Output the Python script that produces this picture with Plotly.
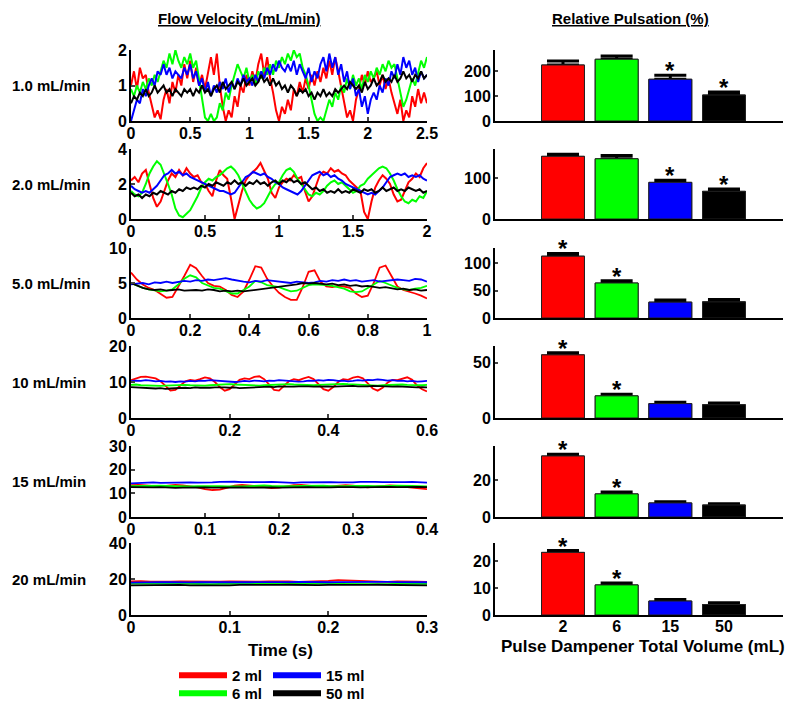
import numpy as np
import plotly.graph_objects as go

# ---------------- data ----------------
volumes = ["2 ml", "6 ml", "15 ml", "50 ml"]
volume_ticks = ["2", "6", "15", "50"]
colors = ["#ff0000", "#00ff00", "#0000ff", "#000000"]
row_labels = ["1.0 mL/min", "2.0 mL/min", "5.0 mL/min", "10 mL/min", "15 mL/min", "20 mL/min"]
durations = [2.5, 2.0, 1.0, 0.6, 0.4, 0.3]
flow_ymax = [2, 4, 10, 20, 30, 40]
time_ticks = [[0, 0.5, 1, 1.5, 2, 2.5], [0, 0.5, 1, 1.5, 2], [0, 0.2, 0.4, 0.6, 0.8, 1],
              [0, 0.2, 0.4, 0.6], [0, 0.1, 0.2, 0.3, 0.4], [0, 0.1, 0.2, 0.3]]
flow_ticks = [[0, 1, 2], [0, 2, 4], [0, 5, 10], [0, 10, 20], [0, 10, 20, 30], [0, 20, 40]]

# 1.0 mL/min
f1_2ml = [1.0, 1.4, 0.9, 1.5, 1.2, 1.3, 0.8, 0.4, 0.1, 0.3, 0.05, 0.6, 0.9, 0.5, 1.1, 0.8, 1.3,
          1.0, 1.6, 1.2, 1.7, 1.1, 1.5, 1.0, 1.3, 0.9, 1.4, 1.8, 1.3, 1.9, 1.0, 0.4, 0.0, 0.3, 0.1,
          0.7, 0.4, 1.0, 0.8, 1.3, 1.0, 1.4, 1.1, 1.6, 1.9, 1.3, 1.8, 1.2, 0.8, 0.3, 0.0, 0.4, 0.2,
          0.6, 0.3, 0.9, 0.7, 1.1, 0.8, 1.2, 0.9, 1.3, 1.0, 1.4, 1.1, 1.5, 1.2, 1.7, 1.3, 1.8, 1.4,
          1.0, 0.5, 0.1, 0.3, 0.0, 0.6, 0.9, 1.3, 1.0, 1.4, 1.1, 1.2, 1.4, 1.0, 1.3, 0.9, 1.2, 0.8,
          0.5, 0.2, 0.6, 0.0, 0.3, 0.1, 0.7, 0.4, 0.9, 0.5, 0.8, 0.5]
f1_6ml = [0.9, 0.7, 1.0, 0.8, 1.1, 0.9, 1.2, 1.0, 1.3, 1.1, 1.4, 1.7, 1.5, 1.9, 1.6, 2.0, 1.7,
          1.5, 1.8, 1.6, 1.9, 1.5, 1.7, 1.2, 0.6, 0.1, 0.0, 0.2, 0.0, 0.1, 0.5, 0.3, 0.8, 0.6, 1.0,
          1.3, 1.6, 1.4, 1.2, 1.5, 1.1, 1.3, 1.0, 1.4, 1.2, 1.5, 1.3, 1.6, 1.3, 1.7, 1.5, 1.8, 1.6,
          1.9, 1.7, 2.0, 1.8, 1.9, 1.5, 1.3, 1.0, 0.6, 0.2, 0.0, 0.1, 0.0, 0.3, 0.6, 0.4, 0.8, 0.6,
          1.0, 0.8, 1.2, 0.9, 1.3, 1.0, 1.2, 0.9, 1.3, 1.1, 1.4, 1.2, 1.5, 1.3, 1.6, 1.4, 1.7, 1.5,
          1.6, 1.2, 0.8, 0.4, 0.6, 0.9, 1.2, 1.0, 1.4, 1.7, 1.5, 1.8]
f1_15ml = [0.0, 0.3, 0.6, 0.5, 0.9, 0.7, 1.0, 1.2, 1.0, 1.4, 1.3, 1.6, 1.3, 1.5, 1.2, 1.4, 1.3,
           1.2, 1.5, 1.3, 1.6, 1.2, 1.4, 1.0, 1.2, 0.8, 1.1, 0.7, 1.0, 0.8, 1.1, 0.9, 1.2, 0.8, 1.1,
           0.9, 1.2, 1.0, 1.3, 1.1, 1.2, 1.0, 1.3, 1.1, 1.4, 1.2, 1.5, 1.3, 1.6, 1.4, 1.7, 1.5, 1.4,
           1.6, 1.4, 1.7, 1.3, 1.6, 1.4, 1.2, 1.5, 1.1, 1.4, 1.2, 1.6, 1.8, 1.4, 1.9, 1.5, 1.8, 1.3,
           1.6, 1.1, 1.4, 0.9, 1.2, 0.7, 0.9, 0.4, 0.7, 0.2, 0.6, 0.8, 0.6, 1.0, 0.8, 1.2, 1.0, 1.4,
           1.2, 1.6, 1.3, 1.8, 1.5, 1.7, 1.3, 1.5, 1.1, 1.4, 1.2, 1.3]
f1_50ml = [0.5, 0.7, 0.6, 0.8, 0.7, 0.9, 0.7, 0.8, 1.0, 0.8, 0.9, 1.0, 0.8, 0.9, 0.7, 0.9, 0.8,
           0.7, 0.9, 0.8, 0.9, 0.7, 0.9, 0.8, 1.0, 0.8, 0.9, 0.7, 0.9, 1.0, 0.8, 1.1, 0.9, 1.0, 1.1,
           0.9, 1.1, 1.0, 1.2, 1.0, 1.1, 1.2, 1.0, 1.1, 1.3, 1.1, 1.2, 1.0, 1.2, 1.0, 1.1, 0.9, 1.0,
           0.8, 1.0, 0.9, 0.7, 0.9, 0.8, 0.9, 0.7, 0.8, 0.6, 0.8, 0.7, 0.9, 0.7, 0.8, 0.7, 0.9, 0.8,
           0.9, 1.0, 0.9, 1.1, 1.0, 0.9, 1.0, 0.8, 1.1, 0.9, 1.0, 1.2, 1.0, 1.1, 1.3, 1.1, 1.2, 1.1,
           1.3, 1.1, 1.2, 1.4, 1.2, 1.3, 1.1, 1.3, 1.2, 1.4, 1.2, 1.3]

# 2.0 mL/min
f2_2ml = [2.2, 2.4, 2.1, 2.6, 2.8, 2.0, 1.2, 0.7, 1.0, 1.6, 2.2, 2.6, 2.4, 2.8, 2.5, 2.9, 2.6,
          2.4, 2.5, 2.1, 2.0, 1.6, 1.3, 2.2, 2.8, 2.5, 2.3, 1.2, 0.0, 0.8, 1.6, 2.2, 2.5, 2.7, 2.9,
          3.2, 2.7, 2.3, 1.5, 1.2, 1.8, 2.1, 2.3, 2.2, 2.5, 2.3, 2.4, 1.6, 1.0, 1.3, 1.9, 2.5, 2.7,
          2.6, 2.9, 2.7, 2.8, 2.6, 2.5, 2.2, 2.0, 1.8, 1.6, 0.4, 0.0, 1.0, 1.8, 2.2, 2.5, 2.3, 2.0,
          1.4, 1.0, 1.1, 1.6, 2.1, 2.3, 2.6, 2.4, 2.9, 3.2]
f2_6ml = [1.6, 1.4, 1.3, 1.5, 2.0, 2.6, 3.0, 3.3, 3.1, 2.6, 2.0, 1.4, 0.6, 0.2, 0.1, 0.3, 0.5,
          0.9, 1.3, 1.8, 2.1, 2.3, 2.2, 2.4, 2.5, 2.7, 2.9, 3.0, 2.8, 2.5, 2.0, 1.5, 1.1, 0.8, 0.6,
          0.7, 0.9, 1.3, 1.7, 2.0, 2.1, 2.5, 2.8, 2.9, 2.7, 2.3, 2.0, 1.7, 1.4, 1.3, 1.5, 1.4, 1.6,
          1.9, 2.1, 2.2, 2.0, 2.1, 1.9, 1.7, 1.5, 1.6, 1.9, 2.0, 2.3, 2.5, 2.7, 2.9, 3.0, 2.9, 2.6,
          2.2, 1.7, 1.3, 1.0, 0.9, 1.1, 1.0, 1.3, 1.2, 1.6]
f2_15ml = [1.9, 1.7, 1.6, 1.5, 1.6, 1.5, 1.7, 1.9, 2.2, 2.5, 2.6, 2.8, 2.6, 2.7, 2.5, 2.6, 2.4,
           2.3, 2.2, 2.1, 2.0, 1.9, 1.8, 1.7, 1.6, 1.6, 1.5, 1.4, 1.5, 1.8, 2.1, 2.4, 2.5, 2.7, 2.6,
           2.5, 2.6, 2.4, 2.3, 2.1, 2.0, 1.8, 1.7, 1.6, 1.5, 1.4, 1.6, 1.9, 2.2, 2.5, 2.6, 2.7, 2.5,
           2.6, 2.4, 2.5, 2.3, 2.2, 2.0, 1.9, 1.8, 1.7, 1.6, 1.5, 1.4, 1.5, 1.4, 1.6, 1.8, 2.1, 2.4,
           2.5, 2.6, 2.5, 2.6, 2.4, 2.5, 2.4, 2.5, 2.3, 2.2]
f2_50ml = [1.5, 1.3, 1.4, 1.2, 1.4, 1.3, 1.5, 1.4, 1.6, 1.5, 1.4, 1.6, 1.5, 1.7, 1.6, 1.8, 1.7,
           1.8, 1.7, 1.9, 1.8, 2.0, 1.9, 2.1, 2.0, 1.9, 2.1, 2.0, 2.2, 2.0, 2.1, 1.9, 2.1, 2.0, 2.2,
           2.0, 2.1, 1.9, 2.1, 2.2, 2.0, 2.2, 2.1, 2.3, 2.1, 2.2, 2.0, 2.1, 1.9, 1.7, 1.8, 1.6, 1.7,
           1.5, 1.6, 1.5, 1.7, 1.5, 1.6, 1.5, 1.7, 1.6, 1.5, 1.7, 1.6, 1.7, 1.5, 1.6, 1.8, 1.6, 1.7,
           1.8, 1.6, 1.7, 1.6, 1.8, 1.7, 1.6, 1.7, 1.5, 1.6]

# 5.0 mL/min
f5_2ml = [6.5, 5.5, 4.8, 4.3, 4.0, 3.4, 2.9, 3.0, 4.4, 6.0, 7.6, 7.1, 6.0, 5.0, 4.6, 4.5, 4.0,
          3.3, 3.0, 3.8, 5.5, 7.4, 7.2, 5.6, 4.5, 3.6, 3.0, 2.6, 2.6, 4.4, 6.6, 6.8, 5.2, 4.5, 4.4,
          4.6, 4.5, 4.3, 3.5, 3.0, 3.2, 5.0, 7.2, 7.5, 6.0, 4.5, 4.0, 3.8, 3.5, 3.2, 2.8]
f5_6ml = [5.0, 4.6, 4.3, 4.1, 3.9, 3.8, 3.9, 4.1, 4.8, 5.6, 6.1, 5.8, 5.0, 4.6, 4.3, 4.2, 3.8,
          3.5, 3.5, 4.0, 4.5, 5.3, 5.1, 4.7, 4.6, 4.4, 4.1, 3.8, 3.9, 4.3, 4.7, 4.8, 4.8, 4.7, 4.6,
          4.4, 4.2, 3.8, 3.7, 3.8, 4.3, 4.9, 5.3, 5.0, 4.6, 4.3, 4.1, 4.0, 4.2, 4.3, 4.6]
f5_15ml = [4.8, 4.9, 5.0, 4.8, 5.1, 5.0, 5.2, 5.0, 5.1, 5.3, 5.2, 5.4, 5.3, 5.5, 5.4, 5.6, 5.7,
           5.5, 5.3, 5.2, 5.1, 5.3, 5.2, 5.4, 5.3, 5.2, 5.1, 5.0, 5.2, 5.1, 5.0, 5.1, 5.3, 5.2, 5.4,
           5.3, 5.5, 5.3, 5.4, 5.2, 5.3, 5.4, 5.2, 5.3, 5.4, 5.5, 5.4, 5.3, 5.6, 5.5, 5.2]
f5_50ml = [5.0, 4.6, 4.3, 4.1, 4.0, 4.1, 3.9, 4.0, 4.1, 3.9, 4.0, 4.0, 3.9, 4.1, 4.0, 3.8, 3.9,
           3.8, 3.9, 3.8, 3.9, 4.0, 4.1, 4.2, 4.3, 4.4, 4.5, 4.7, 4.8, 5.0, 4.9, 5.0, 4.9, 4.8, 4.9,
           4.7, 4.8, 4.6, 4.7, 4.5, 4.6, 4.4, 4.3, 4.4, 4.2, 4.1, 4.2, 4.0, 4.1, 3.9, 4.0]

# 10 mL/min
f10_2ml = [10.5, 11.0, 11.4, 11.5, 11.2, 11.0, 10.2, 8.8, 7.6, 7.8, 9.0, 10.2, 10.6, 10.4, 10.8,
           11.3, 11.0, 10.0, 8.6, 7.6, 8.0, 9.4, 10.6, 11.0, 10.8, 11.4, 11.6, 10.8, 9.2, 7.8, 7.6,
           8.8, 10.2, 10.8, 10.5, 11.0, 11.4, 10.8, 9.4, 8.0, 7.6, 8.6, 10.0, 10.8, 10.6, 11.2, 11.5,
           11.0, 9.6, 8.2, 7.6, 8.4, 9.8, 10.6, 10.5, 11.0, 11.3, 10.6, 9.0, 8.0, 7.4]
f10_6ml = [9.2, 9.3, 9.1, 9.0, 8.9, 8.8, 8.9, 9.0, 9.1, 9.2, 9.3, 9.2, 9.1, 9.0, 8.9, 9.0, 9.1,
           9.2, 9.4, 9.5, 9.4, 9.3, 9.2, 9.1, 9.0, 8.9, 9.0, 9.1, 9.2, 9.3, 9.4, 9.5, 9.4, 9.3, 9.2,
           9.1, 9.0, 9.1, 9.2, 9.3, 9.4, 9.5, 9.6, 9.5, 9.4, 9.3, 9.2, 9.1, 9.0, 8.9, 9.0, 9.1, 9.2,
           9.3, 9.4, 9.3, 9.2, 9.1, 9.0, 9.1, 9.2]
f10_15ml = [10.2, 10.4, 10.3, 10.5, 10.4, 10.2, 10.3, 10.1, 10.2, 10.0, 10.2, 10.1, 10.3, 10.2,
            10.4, 10.3, 10.5, 10.4, 10.3, 10.1, 10.2, 10.0, 10.1, 10.3, 10.2, 10.4, 10.3, 10.2,
            10.4, 10.3, 10.5, 10.4, 10.2, 10.3, 10.1, 10.2, 10.4, 10.3, 10.5, 10.4, 10.6, 10.5,
            10.3, 10.4, 10.2, 10.3, 10.5, 10.4, 10.6, 10.5, 10.7, 10.6, 10.4, 10.5, 10.3, 10.4,
            10.2, 10.3, 10.1, 10.2, 10.3]
f10_50ml = [8.6, 8.5, 8.4, 8.3, 8.4, 8.2, 8.3, 8.1, 8.2, 8.3, 8.2, 8.4, 8.3, 8.5, 8.4, 8.3, 8.4,
            8.5, 8.6, 8.5, 8.4, 8.5, 8.3, 8.4, 8.5, 8.6, 8.5, 8.6, 8.7, 8.6, 8.8, 8.7, 8.6, 8.7, 8.8,
            8.9, 8.8, 8.7, 8.8, 8.9, 8.8, 8.7, 8.8, 8.9, 9.0, 8.9, 8.8, 8.7, 8.8, 8.9, 8.8, 8.7, 8.6,
            8.7, 8.8, 8.7, 8.6, 8.7, 8.5, 8.6, 8.5]

# 15 mL/min
f15_2ml = [13.5, 13.6, 13.3, 13.0, 12.8, 13.2, 13.6, 13.4, 13.0, 12.5, 11.8, 11.4, 11.6, 12.4,
           13.2, 13.6, 13.4, 13.0, 12.6, 12.2, 12.4, 13.0, 13.5, 13.6, 13.2, 12.8, 12.6, 12.9, 13.3,
           13.5, 13.2, 12.8, 12.5, 12.8, 13.2, 13.4, 13.1, 12.7, 12.4, 12.0, 11.8]
f15_6ml = [13.0, 13.1, 12.9, 13.0, 13.2, 13.1, 13.0, 12.8, 12.9, 13.0, 13.1, 13.2, 13.0, 12.9,
           12.8, 12.9, 13.0, 13.2, 13.3, 13.1, 13.0, 12.9, 13.0, 13.1, 13.2, 13.3, 13.2, 13.0, 12.9,
           13.0, 13.1, 13.2, 13.1, 13.0, 12.9, 13.1, 13.2, 13.3, 13.1, 13.0, 12.9]
f15_15ml = [14.2, 14.4, 14.5, 14.6, 14.4, 14.5, 14.7, 14.8, 14.6, 14.5, 14.4, 14.6, 14.8, 15.0,
            14.9, 14.7, 14.6, 14.5, 14.7, 14.8, 14.6, 14.5, 14.4, 14.6, 14.7, 14.8, 14.9, 14.7,
            14.6, 14.5, 14.6, 14.8, 14.9, 14.8, 14.7, 14.6, 14.5, 14.7, 14.8, 14.6, 14.5]
f15_50ml = [12.6, 12.5, 12.4, 12.5, 12.6, 12.4, 12.3, 12.4, 12.5, 12.6, 12.5, 12.4, 12.5, 12.6,
            12.7, 12.5, 12.4, 12.5, 12.6, 12.5, 12.4, 12.5, 12.6, 12.7, 12.6, 12.5, 12.4, 12.5,
            12.6, 12.7, 12.6, 12.5, 12.6, 12.7, 12.8, 12.7, 12.6, 12.7, 12.8, 12.7, 12.6]

# 20 mL/min
f20_2ml = [18.6, 18.8, 18.5, 18.3, 18.5, 18.7, 18.6, 18.4, 18.3, 18.5, 18.7, 18.6, 18.4, 18.5,
           18.7, 18.8, 18.6, 18.4, 18.5, 18.7, 19.0, 19.4, 19.2, 18.8, 18.6, 18.5, 18.4, 18.6,
           18.7, 18.5, 18.4]
f20_6ml = [17.5, 17.4, 17.2, 17.3, 17.4, 17.5, 17.3, 17.2, 17.1, 17.3, 17.4, 17.3, 17.2, 17.4,
           17.5, 17.3, 17.2, 17.3, 17.5, 17.6, 17.4, 17.3, 17.2, 17.3, 17.4, 17.3, 17.2, 17.4,
           17.5, 17.4, 17.3]
f20_15ml = [18.0, 18.2, 18.1, 18.3, 18.2, 18.0, 18.1, 18.3, 18.2, 18.4, 18.3, 18.1, 18.2, 18.3,
            18.2, 18.1, 18.3, 18.4, 18.2, 18.1, 18.2, 18.3, 18.4, 18.3, 18.2, 18.3, 18.4, 18.3,
            18.2, 18.3, 18.2]
f20_50ml = [16.5, 16.6, 16.4, 16.5, 16.6, 16.7, 16.5, 16.4, 16.5, 16.6, 16.5, 16.7, 16.6, 16.5,
            16.6, 16.7, 16.8, 16.6, 16.5, 16.6, 16.7, 16.6, 16.5, 16.6, 16.7, 16.8, 16.7, 16.6,
            16.7, 16.6, 16.5]

# relative pulsation (%) mean and error, per flow rate, per dampener volume
puls_1_0 = [224, 247, 167, 104]
err_1_0 = [16, 13, 16, 12]
puls_2_0 = [154, 148, 90, 68]
err_2_0 = [5, 8, 5, 6]
puls_5_0 = [113, 64, 29, 29.5]
err_5_0 = [5, 4, 4, 4.5]
puls_10 = [57, 20, 13, 12]
err_10 = [2, 1.5, 1.2, 1.5]
puls_15 = [33, 12.5, 7.6, 6.5]
err_15 = [1, 1, 0.7, 0.6]
puls_20 = [23.3, 11.2, 5.2, 3.9]
err_20 = [0.7, 0.7, 0.6, 0.7]
signif_1_0 = [False, False, True, True]
signif_2_0 = [False, False, True, True]
signif_5_0 = [True, True, False, False]
signif_10 = [True, True, False, False]
signif_15 = [True, True, False, False]
signif_20 = [True, True, False, False]
puls_ymax = [284, 172, 128, 65, 38.4, 26.8]
puls_ticks = [[0, 100, 200], [0, 100], [0, 50, 100], [0, 50], [0, 20], [0, 10, 20]]

flows = [[f1_2ml, f1_6ml, f1_15ml, f1_50ml], [f2_2ml, f2_6ml, f2_15ml, f2_50ml],
         [f5_2ml, f5_6ml, f5_15ml, f5_50ml], [f10_2ml, f10_6ml, f10_15ml, f10_50ml],
         [f15_2ml, f15_6ml, f15_15ml, f15_50ml], [f20_2ml, f20_6ml, f20_15ml, f20_50ml]]
puls = [puls_1_0, puls_2_0, puls_5_0, puls_10, puls_15, puls_20]
errs = [err_1_0, err_2_0, err_5_0, err_10, err_15, err_20]
signifs = [signif_1_0, signif_2_0, signif_5_0, signif_10, signif_15, signif_20]

# ---------------- layout ----------------
W, H = 800, 705
OFF = 8  # page body offset of the plot div


def PX(px):
    return (px - OFF) / W


def PY(py):
    return 1 - (py - OFF) / H


FONT = "Liberation Sans, Arial, sans-serif"
tops = [50, 149, 248, 346, 446, 543]
bottoms = [121, 219, 318, 418, 517, 615]
left_dom = [PX(131), PX(427)]
right_dom = [PX(495), PX(783)]
bar_pos = [1, 2, 3, 4]
line_w = [2.0, 2.0, 1.8, 1.8, 1.8, 1.8]

fig = go.Figure()
layout = dict(
    width=W, height=H, margin=dict(l=0, r=0, t=0, b=0, pad=0, autoexpand=False),
    paper_bgcolor="white", plot_bgcolor="white", showlegend=True,
    font=dict(family=FONT, size=16, color="black", weight="bold"),
    barmode="overlay",
)
annotations = []
tickfont = dict(family=FONT, size=16, color="black", weight="bold")

for r in range(6):
    ydom = [PY(bottoms[r]), PY(tops[r])]
    lx, ly = f"x{2*r+1}", f"y{2*r+1}"
    rx, ry = f"x{2*r+2}", f"y{2*r+2}"
    T = durations[r]
    for k in range(4):
        yv = flows[r][k]
        t = np.linspace(0, T, len(yv))
        fig.add_trace(go.Scatter(x=t, y=yv, mode="lines", line=dict(color=colors[k], width=line_w[r]),
                                 xaxis=lx, yaxis=ly, showlegend=False, hoverinfo="skip"))
    layout[f"xaxis{2*r+1}"] = dict(
        domain=left_dom, anchor=ly, range=[0, T], tickvals=time_ticks[r],
        ticktext=[f"{v:g}" for v in time_ticks[r]], ticks="inside", ticklen=4, tickwidth=1.5,
        showline=True, linewidth=2, linecolor="black", showgrid=False, zeroline=False,
        tickfont=tickfont, automargin=False, ticklabelstandoff=-3)
    layout[f"yaxis{2*r+1}"] = dict(
        domain=ydom, anchor=lx, range=[0, flow_ymax[r]], tickvals=flow_ticks[r],
        ticks="inside", ticklen=4, tickwidth=1.5, showline=True, linewidth=2, linecolor="black",
        showgrid=False, zeroline=False, tickfont=tickfont, automargin=False, ticklabelstandoff=-1)

    # bars
    fig.add_trace(go.Bar(x=bar_pos, y=puls[r], width=0.8, marker=dict(color=colors,
                         line=dict(color="#222222", width=1)),
                         error_y=dict(type="data", array=errs[r], arrayminus=[0] * 4,
                                      symmetric=False, color="black", thickness=3, width=16),
                         xaxis=rx, yaxis=ry, showlegend=False, hoverinfo="skip"))
    fig.add_trace(go.Bar(x=bar_pos, y=puls[r], width=0.8, marker=dict(color=colors,
                         line=dict(color="#222222", width=1)),
                         xaxis=rx, yaxis=ry, showlegend=False, hoverinfo="skip"))
    layout[f"xaxis{2*r+2}"] = dict(
        domain=right_dom, anchor=ry, range=[-0.267, 5.1], tickvals=bar_pos,
        ticktext=volume_ticks, showticklabels=(r == 5), ticks="",
        showline=True, linewidth=2, linecolor="black", showgrid=False, zeroline=False,
        tickfont=tickfont, automargin=False, ticklabelstandoff=-4)
    layout[f"yaxis{2*r+2}"] = dict(
        domain=ydom, anchor=rx, range=[0, puls_ymax[r]], tickvals=puls_ticks[r],
        ticks="inside", ticklen=3, tickwidth=1.5, showline=True, linewidth=2, linecolor="black",
        showgrid=False, zeroline=False, tickfont=tickfont, automargin=False, ticklabelstandoff=-1)
    for k in range(4):
        if signifs[r][k]:
            annotations.append(dict(x=bar_pos[k], y=puls[r][k] + errs[r][k], xref=rx, yref=ry,
                                    text="*", showarrow=False, xanchor="center", yanchor="bottom",
                                    yshift=-11,
                                    font=dict(family=FONT, size=24, color="black", weight="bold")))
    annotations.append(dict(x=PX(10), y=PY((tops[r] + bottoms[r]) / 2), xref="paper",
                            yref="paper", text=row_labels[r], showarrow=False, xanchor="left",
                            yanchor="middle",
                            font=dict(family=FONT, size=15, color="black", weight="bold")))

annotations += [
    dict(x=PX(240), y=PY(18), xref="paper", yref="paper", text="<u>Flow Velocity (mL/min)</u>",
         showarrow=False, xanchor="center", yanchor="middle",
         font=dict(family=FONT, size=15, color="black", weight="bold")),
    dict(x=PX(630), y=PY(18), xref="paper", yref="paper", text="<u>Relative Pulsation (%)</u>",
         showarrow=False, xanchor="center", yanchor="middle",
         font=dict(family=FONT, size=15, color="black", weight="bold")),
    dict(x=PX(280), y=PY(650), xref="paper", yref="paper", text="Time (s)",
         showarrow=False, xanchor="center", yanchor="middle",
         font=dict(family=FONT, size=17, color="black", weight="bold")),
    dict(x=PX(643), y=PY(646), xref="paper", yref="paper",
         text="Pulse Dampener Total Volume (mL)", showarrow=False, xanchor="center",
         yanchor="middle", font=dict(family=FONT, size=17, color="black", weight="bold")),
]
layout["annotations"] = annotations

# legend entries: 2 columns x 2 rows, one legend box per entry
legend_ids = ["legend", "legend2", "legend3", "legend4"]
legend_xy = [(174, 659), (174, 677), (268, 659), (268, 677)]
legend_common = dict(orientation="v", xanchor="left", yanchor="top", itemwidth=48,
                     bgcolor="rgba(0,0,0,0)", borderwidth=0, tracegroupgap=0,
                     font=dict(family=FONT, size=15, color="black", weight="bold"))
for k in range(4):
    fig.add_trace(go.Scatter(x=[None], y=[None], mode="lines", name=volumes[k],
                             line=dict(color=colors[k], width=6), xaxis="x", yaxis="y",
                             legend=legend_ids[k]))
    layout[legend_ids[k]] = dict(x=PX(legend_xy[k][0]), y=PY(legend_xy[k][1]), **legend_common)

fig.update_layout(**layout)
fig.write_html("out.html")
